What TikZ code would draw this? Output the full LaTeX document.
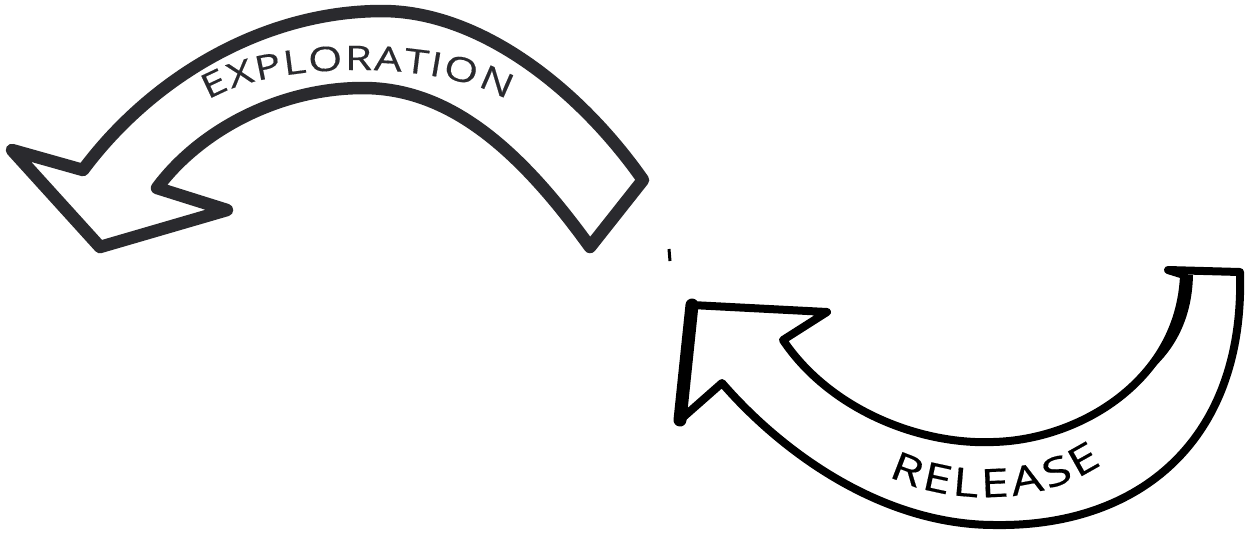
\documentclass[tikz,border=0pt]{standalone}
\usepackage{fontspec}
\setmainfont{Open Sans}
\newfontfamily\bandfont[FakeStretch=1.3,FakeBold=0.4]{Open Sans}
\usetikzlibrary{decorations.text}
\definecolor{darkink}{HTML}{2A2A2E}
\tikzset{
  leftband/.style={draw=darkink, line width=0.125cm, line join=round, line cap=round, fill=white},
  rightband/.style={draw=black, line width=0.08cm, line join=round, line cap=round, fill=white},
  bandtext/.style={decorate, decoration={text effects along path, text={#1},
      text effects/.cd, text along path, fit text to path,
      characters={font=\bandfont\fontsize{9.6}{11}\selectfont, text=darkink, inner sep=0pt}}},
  bandtextb/.style={decorate, decoration={text effects along path, text={#1},
      text effects/.cd, text along path, fit text to path,
      characters={font=\bandfont\fontsize{11.2}{13}\selectfont, text=black, inner sep=0pt}}}
}
\begin{document}
\begin{tikzpicture}[x=0.01cm,y=-0.01cm]
\useasboundingbox[fill=white] (0,0) rectangle (1251,538);

% ---- left arrow : EXPLORATION
\coordinate (lbarbU) at (12,150);
\coordinate (ljoin) at (83,170);
\coordinate (ltop) at (380,11);
\coordinate (ltailO) at (643,180);
\coordinate (ltailI) at (590,247);
\coordinate (linTop) at (363,88);
\coordinate (lnotch) at (157,188);
\coordinate (lbarbR) at (227,210);
\coordinate (ltip) at (100,247);
\draw[leftband] (lbarbU) -- (ljoin)
  .. controls (150,80) and (260,12) .. (ltop)
  .. controls (480,10) and (580,90) .. (ltailO)
  -- (ltailI)
  .. controls (520,150) and (450,88) .. (linTop)
  .. controls (280,88) and (200,130) .. (lnotch)
  -- (lbarbR) -- (ltip) -- cycle;
\path[bandtext={EXPLORATION}] (208,100) .. controls (275,60) and (440,60) .. (507,100);

% ---- right arrow : RELEASE
\coordinate (rtip) at (692,305);
\coordinate (rbarbA) at (827,312);
\coordinate (rnotch) at (783,340);
\coordinate (rinBot) at (993,442);
\coordinate (rinMid) at (1140,379);
\coordinate (rtailI) at (1184,275);
\coordinate (rtailI2) at (1193,275);
\coordinate (rhook) at (1168,270);
\coordinate (rtailO) at (1240,272);
\coordinate (routBot) at (995,525);
\coordinate (rjoin) at (722,383);
\coordinate (rbarbB) at (680,420);
\draw[rightband] (rtip) -- (rbarbA) -- (rnotch)
  .. controls (830,410) and (920,445) .. (rinBot)
  .. controls (1080,440) and (1180,380) .. (rtailI)
  -- (rhook) -- (rtailO)
  .. controls (1245,440) and (1140,527) .. (routBot)
  .. controls (880,525) and (780,450) .. (rjoin)
  -- (rbarbB) -- cycle;
\draw[black, line width=0.13cm, line cap=round] (rbarbB) -- (rtip);
\fill[black] (rinMid) .. controls (1165,352) and (1182,317) .. (rtailI)
  -- (rtailI2) .. controls (1192,322) and (1172,356) .. (rinMid) -- cycle;
\path[bandtextb={RELEASE}] (888,476) .. controls (950,506) and (1040,506) .. (1102,464);

% small tick
\coordinate (tickA) at (669,249);
\coordinate (tickB) at (670,261);
\draw[black, line width=0.03cm] (tickA) -- (tickB);
\end{tikzpicture}
\end{document}
